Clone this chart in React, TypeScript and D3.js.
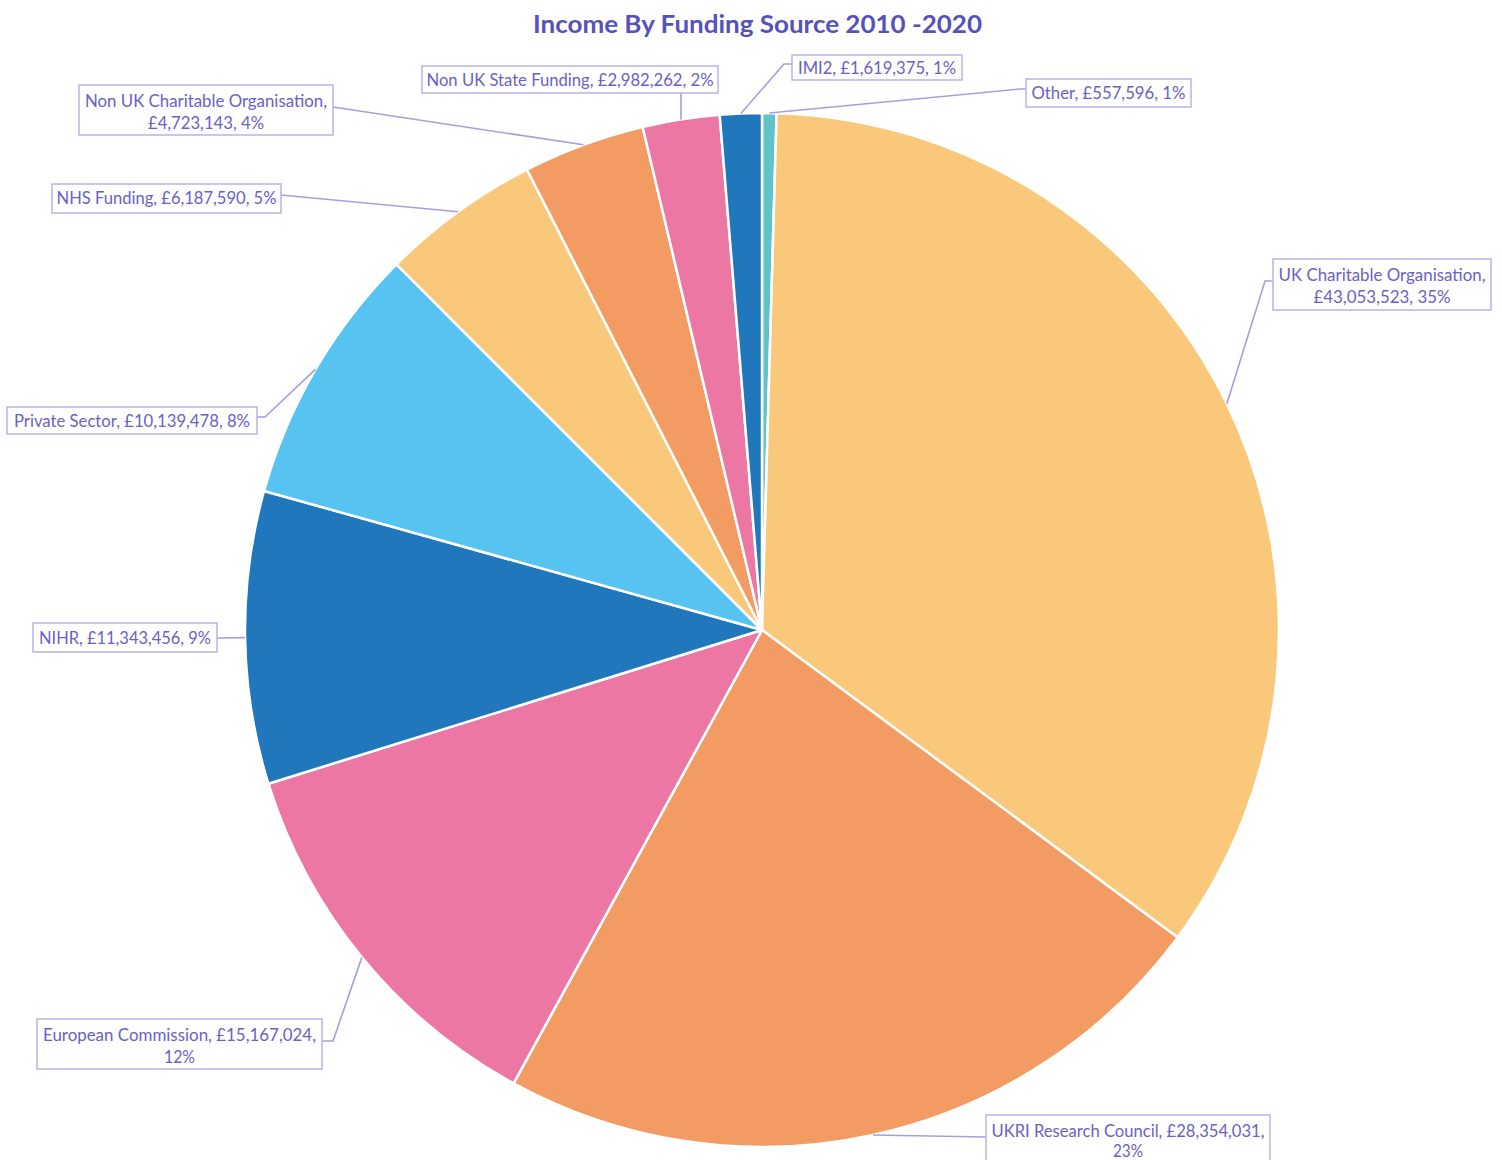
import React from "react";
import * as d3 from "d3";

const categories = [
  "Other",
  "UK Charitable Organisation",
  "UKRI Research Council",
  "European Commission",
  "NIHR",
  "Private Sector",
  "NHS Funding",
  "Non UK Charitable Organisation",
  "Non UK State Funding",
  "IMI2",
];
const values = [557596, 43053523, 28354031, 15167024, 11343456, 10139478, 6187590, 4723143, 2982262, 1619375];
const percentLabels = ["1%", "35%", "23%", "12%", "9%", "8%", "5%", "4%", "2%", "1%"];
const colors = ["#60C2CB", "#F9C87A", "#F29B63", "#EC77A5", "#2177BC", "#56C3F0", "#F9C87A", "#F29B63", "#EC77A5", "#2177BC"];

// label layout: box [x, y, w, h], line breaks, line text widths, leader elbow points
type Layout = { box: [number, number, number, number]; split: "none" | "name" | "pct"; widths: number[]; lineY: number[]; leader: [number, number][] };
const layouts: Layout[] = [
  { box: [1026, 79, 165, 28], split: "none", widths: [154], lineY: [93], leader: [[1020, 89], [1026, 89]] },
  { box: [1273, 259, 218, 51], split: "name", widths: [207, 137], lineY: [275, 297], leader: [[1265, 281], [1273, 281]] },
  { box: [986, 1115, 284, 60], split: "pct", widths: [273, 30], lineY: [1131, 1151], leader: [[986, 1137]] },
  { box: [37, 1019, 285, 50], split: "pct", widths: [273, 31], lineY: [1035, 1057], leader: [[333, 1041], [322, 1041]] },
  { box: [33, 623, 184, 29], split: "none", widths: [172], lineY: [638], leader: [[217, 638]] },
  { box: [7, 407, 250, 27], split: "none", widths: [236], lineY: [421], leader: [[265, 417], [257, 417]] },
  { box: [52, 184, 229, 29], split: "none", widths: [220], lineY: [198], leader: [[281, 195]] },
  { box: [79, 85, 254, 50], split: "name", widths: [242, 116], lineY: [101, 123], leader: [[333, 107]] },
  { box: [422, 66, 296, 27], split: "none", widths: [287], lineY: [80], leader: [[681, 93]] },
  { box: [792, 55, 170, 25], split: "none", widths: [158], lineY: [68], leader: [[784, 64], [792, 64]] },
];

const W = 1502;
const H = 1160;
const cx = 762;
const cy = 630;
const R = 517;

export default function App() {
  const fmt = d3.format(",");
  const pie = d3.pie<number>().sort(null).value((d) => d).startAngle(0).endAngle(Math.PI * 2);
  const arcs = pie(values);
  const arc = d3.arc<d3.PieArcDatum<number>>().innerRadius(0).outerRadius(R);
  const font = "Lato, 'Open Sans', sans-serif";
  const textColor = "#6A61C6";
  const boxStroke = "#B9B2E6";
  const leaderColor = "#A79EDC";

  const labelLines = (i: number): string[] => {
    const name = categories[i];
    const money = "£" + fmt(values[i]);
    const pct = percentLabels[i];
    const l = layouts[i];
    if (l.split === "name") return [name + ",", money + ", " + pct];
    if (l.split === "pct") return [name + ", " + money + ",", pct];
    return [name + ", " + money + ", " + pct];
  };

  return (
    <svg width={W} height={H} style={{ position: "absolute", left: 0, top: 0, background: "#fff" }}>
      <text
        x={757.5}
        y={33}
        textAnchor="middle"
        fontFamily={font}
        fontWeight="bold"
        fontSize={24}
        fill="#5552B9"
        textLength={449}
        lengthAdjust="spacingAndGlyphs"
      >
        Income By Funding Source 2010 -2020
      </text>
      <g transform={`translate(${cx},${cy})`}>
        {arcs.map((a, i) => (
          <path key={i} d={arc(a) || ""} fill={colors[i]} stroke="#fff" strokeWidth={2.5} strokeLinejoin="round" />
        ))}
      </g>
      {arcs.map((a, i) => {
        const mid = (a.startAngle + a.endAngle) / 2;
        const sx = cx + R * Math.sin(mid);
        const sy = cy - R * Math.cos(mid);
        const pts: [number, number][] = [[sx, sy], ...layouts[i].leader];
        const line = d3.line()(pts) || "";
        return <path key={"l" + i} d={line} fill="none" stroke={leaderColor} strokeWidth={1.6} />;
      })}
      {layouts.map((l, i) => {
        const [bx, by, bw, bh] = l.box;
        const lines = labelLines(i);
        return (
          <g key={"b" + i}>
            <rect x={bx} y={by} width={bw} height={bh} fill="#fff" stroke={boxStroke} strokeWidth={1.5} />
            {lines.map((t, j) => (
              <text
                key={j}
                x={bx + bw / 2}
                y={l.lineY[j] + 6}
                textAnchor="middle"
                fontFamily={font}
                fontSize={18}
                fill={textColor}
                textLength={l.widths[j]}
                lengthAdjust="spacingAndGlyphs"
              >
                {t}
              </text>
            ))}
          </g>
        );
      })}
    </svg>
  );
}
